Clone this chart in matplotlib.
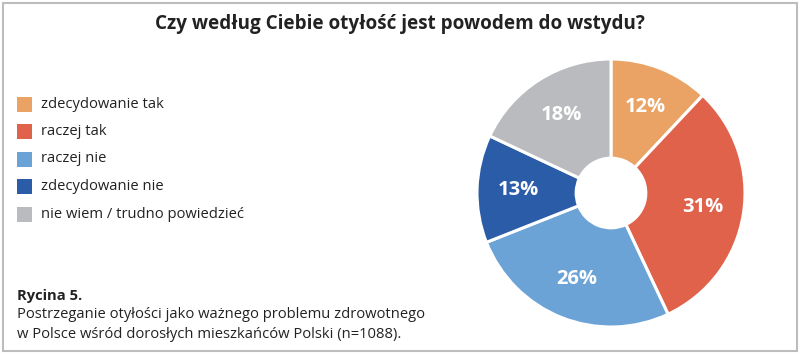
import matplotlib.pyplot as plt
from matplotlib.patches import Rectangle

plt.rcParams['font.family'] = ['Open Sans', 'DejaVu Sans']

# Survey answers
categories = ['zdecydowanie tak', 'raczej tak', 'raczej nie',
              'zdecydowanie nie', 'nie wiem / trudno powiedzieć']
values = [12, 31, 26, 13, 18]
colors = ['#EBA265', '#E0624A', '#6CA3D6', '#2A5CA8', '#B9BBBF']

title = 'Czy według Ciebie otyłość jest powodem do wstydu?'
caption_head = 'Rycina 5.'
caption_lines = ['Postrzeganie otyłości jako ważnego problemu zdrowotnego',
                 'w Polsce wśród dorosłych mieszkańców Polski (n=1088).']

W, H = 800, 357
fig = plt.figure(figsize=(W / 100, H / 100), dpi=100)
fig.patch.set_facecolor('white')

# frame around the whole figure
fig.add_artist(Rectangle((3 / W, 6 / H), 794 / W, 348 / H, transform=fig.transFigure,
                         fill=False, edgecolor='#BDBDBD', linewidth=1.5))

fig.text(400 / W, 1 - 24 / H, title, ha='center', va='center',
         fontsize=13.6, fontweight='bold', color='#222222')

# donut
cx, cy, r = 611, 193, 134
ax = fig.add_axes([(cx - r) / W, 1 - (cy + r) / H, 2 * r / W, 2 * r / H])
wedges, texts = ax.pie(values, colors=colors, startangle=90, counterclock=False,
                       labels=[f'{v}%' for v in values], labeldistance=0.69,
                       wedgeprops=dict(width=0.74, edgecolor='white', linewidth=2.2))
for t in texts:
    t.set_ha('center')
    t.set_va('center')
    t.set_color('white')
    t.set_fontsize(14.5)
    t.set_fontweight('bold')
ax.set_xlim(-1, 1)
ax.set_ylim(-1, 1)
ax.set_aspect('equal')
ax.axis('off')

# legend
y0, dy = 104, 27.5
for i, (cat, col) in enumerate(zip(categories, colors)):
    y = y0 + i * dy
    fig.add_artist(Rectangle((17 / W, 1 - (y + 7.5) / H), 15 / W, 15 / H,
                             transform=fig.transFigure, facecolor=col, edgecolor='none'))
    fig.text(41 / W, 1 - y / H, cat, ha='left', va='center', fontsize=10.6, color='#222222')

# caption
fig.text(17 / W, 1 - 296 / H, caption_head, ha='left', va='center',
         fontsize=10.6, fontweight='bold', color='#222222')
for i, line in enumerate(caption_lines):
    fig.text(17 / W, 1 - (315 + i * 19) / H, line, ha='left', va='center',
             fontsize=10.6, color='#222222')

fig.savefig('out.png', dpi=100)
